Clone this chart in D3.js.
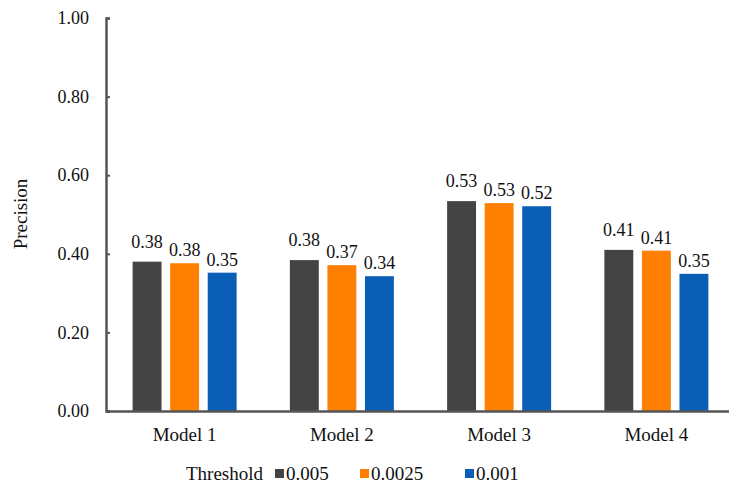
<!DOCTYPE html>
<html>
<head>
<meta charset="utf-8">
<script src="https://cdn.jsdelivr.net/npm/d3@7"></script>
<style>
  body { margin: 0; background: #fff; }
  text { font-family: "Liberation Serif", "Times New Roman", serif; fill: #111; }
</style>
</head>
<body>
<div id="chart"></div>
<script>
// chart data
var models = ["Model 1", "Model 2", "Model 3", "Model 4"];
var thresholds = ["0.005", "0.0025", "0.001"];
var t005 = [0.380, 0.384, 0.534, 0.410];
var t0025 = [0.376, 0.371, 0.529, 0.408];
var t001 = [0.352, 0.343, 0.521, 0.349];
var yTicks = [0, 0.2, 0.4, 0.6, 0.8, 1.0];

var seriesValues = [t005, t0025, t001];
var data = models.map((m, i) => ({
  model: m,
  values: thresholds.map((t, j) => ({ key: t, value: seriesValues[j][i] }))
}));

var width = 729, height = 484;
var svg = d3.select("#chart").append("svg")
  .attr("width", width)
  .attr("height", height);

// scales
var x = d3.scaleBand()
  .domain(models)
  .range([106, 735])
  .paddingInner(0)
  .paddingOuter(0);

var x1 = d3.scaleBand()
  .domain(thresholds)
  .range([0, 104])
  .paddingInner(0.23);

var y = d3.scaleLinear()
  .domain([0, 1])
  .range([411, 18]);

var color = d3.scaleOrdinal()
  .domain(thresholds)
  .range(["#444444", "#ff7f00", "#0a5eb5"]);

// bars
var groups = svg.selectAll(".group")
  .data(data)
  .enter().append("g")
  .attr("transform", d => "translate(" + (x(d.model) + x.bandwidth() / 2 - 52) + ",0)");

groups.selectAll("rect")
  .data(d => d.values)
  .enter().append("rect")
  .attr("x", d => x1(d.key))
  .attr("y", d => y(d.value))
  .attr("width", x1.bandwidth())
  .attr("height", d => y(0) - y(d.value))
  .attr("fill", d => color(d.key));

// value labels (first series lifted a bit more)
groups.selectAll(".lbl")
  .data(d => d.values)
  .enter().append("text")
  .attr("class", "lbl")
  .attr("x", d => x1(d.key) + x1.bandwidth() / 2)
  .attr("y", d => y(d.value) - (d.key === "0.005" ? 14 : 7))
  .attr("text-anchor", "middle")
  .style("font-size", "18px")
  .text(d => d.value.toFixed(2));

// y axis
var yAxis = svg.append("g")
  .attr("transform", "translate(106,0)")
  .call(d3.axisRight(y).tickValues(yTicks).tickSize(4).tickFormat(d3.format(".2f")));
yAxis.select(".domain").attr("stroke", "#555").attr("stroke-width", 2.5);
yAxis.selectAll(".tick line").attr("stroke", "#555").attr("stroke-width", 2);
yAxis.selectAll(".tick text")
  .attr("x", -17)
  .attr("text-anchor", "end")
  .style("font-size", "18px")
  .style("font-family", "Liberation Serif")
  .attr("fill", "#111");

// x axis
var xAxis = svg.append("g")
  .attr("transform", "translate(0,411)")
  .call(d3.axisBottom(x).tickSize(0).tickSizeOuter(0));
xAxis.select(".domain").attr("stroke", "#555").attr("stroke-width", 2.5);
xAxis.selectAll(".tick text")
  .attr("y", 17)
  .attr("dy", "0.71em")
  .style("font-size", "19px")
  .style("font-family", "Liberation Serif")
  .attr("fill", "#111");

// y title
svg.append("text")
  .attr("transform", "translate(27,214) rotate(-90)")
  .attr("text-anchor", "middle")
  .style("font-size", "19px")
  .text("Precision");

// legend
var legend = svg.append("g");
legend.append("text")
  .attr("x", 186)
  .attr("y", 480)
  .style("font-size", "19px")
  .text("Threshold");

var legendX = [275, 360, 465];
thresholds.forEach((t, i) => {
  legend.append("rect")
    .attr("x", legendX[i])
    .attr("y", 469)
    .attr("width", 9)
    .attr("height", 9)
    .attr("fill", color(t));
  legend.append("text")
    .attr("x", legendX[i] + 11)
    .attr("y", 480)
    .style("font-size", "19px")
    .text(t);
});
</script>
</body>
</html>
